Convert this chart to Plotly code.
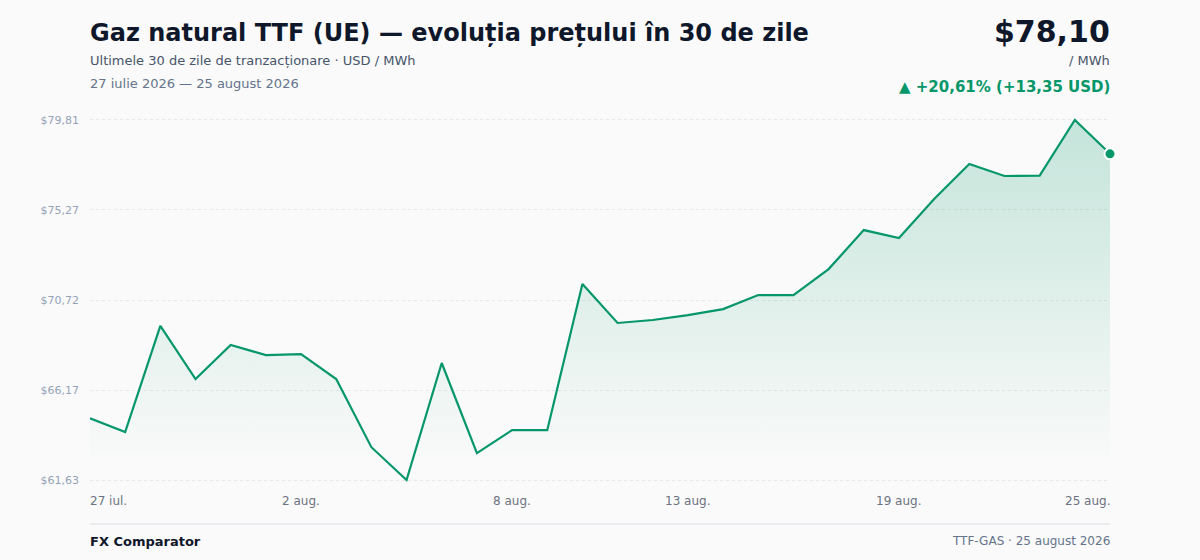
import plotly.graph_objects as go
import pandas as pd

# Daily TTF prices (USD / MWh)
dates = pd.date_range("2026-07-27", "2026-08-25", freq="D")
prices = [64.75, 64.05, 69.41, 66.73, 68.45, 67.94, 67.99, 66.73, 63.29, 61.63,
          67.54, 62.99, 64.15, 64.15, 71.53, 69.56, 69.71, 69.96, 70.26, 70.97,
          70.97, 72.28, 74.25, 73.85, 75.82, 77.59, 76.98, 77.00, 79.81, 78.10]

y_ticks = [61.63, 66.17, 70.72, 75.27, 79.81]
y_labels = ["$61,63", "$66,17", "$70,72", "$75,27", "$79,81"]
x_tick_dates = ["2026-07-27", "2026-08-02", "2026-08-08", "2026-08-13", "2026-08-19", "2026-08-25"]
x_tick_labels = ["27 iul.", "2 aug.", "8 aug.", "13 aug.", "19 aug.", "25 aug."]

GREEN = "#059669"
BG = "#fafafa"
FONT = "DejaVu Sans"

pad = 0.3
fig = go.Figure()

fig.add_trace(go.Scatter(
    x=dates, y=prices, mode="lines",
    line=dict(color=GREEN, width=2.2),
    fill="tozeroy",
    fillgradient=dict(type="vertical", start=62.3, stop=79.81,
                      colorscale=[[0, "rgba(5,150,105,0.0)"], [1, "rgba(5,150,105,0.22)"]]),
    hoverinfo="skip", showlegend=False,
))

# last point marker
fig.add_trace(go.Scatter(
    x=[dates[-1]], y=[prices[-1]], mode="markers",
    marker=dict(color=GREEN, size=11, line=dict(color="white", width=2)),
    cliponaxis=False, hoverinfo="skip", showlegend=False,
))

fig.update_layout(
    width=1200, height=560,
    paper_bgcolor=BG, plot_bgcolor=BG,
    margin=dict(l=90, r=90, t=114, b=74),
    font=dict(family=FONT),
    xaxis=dict(range=[dates[0], dates[-1]], showgrid=False, showticklabels=False,
               zeroline=False, showline=False, fixedrange=True),
    yaxis=dict(range=[61.63 - pad, 79.81 + pad], tickvals=y_ticks, ticktext=y_labels,
               showgrid=True, gridcolor="#e5e7eb", griddash="dot", gridwidth=1,
               zeroline=False, showline=False, ticks="", ticklen=0, ticklabelstandoff=10,
               tickfont=dict(family=FONT, size=11, color="#94a3b8")),
)

# pixel row -> paper fraction
plot_h = 560 - 114 - 74
def py(pix):
    return (560 - 74 - pix) / plot_h

SHIFT = {"left": -2, "center": 0, "right": 2}

# x tick labels (first/last aligned inwards)
for i, (d, lab) in enumerate(zip(x_tick_dates, x_tick_labels)):
    anchor = "left" if i == 0 else ("right" if i == len(x_tick_dates) - 1 else "center")
    fig.add_annotation(x=d, xref="x", y=py(501), yref="paper", yanchor="middle",
                       text=lab, showarrow=False, xanchor=anchor, xshift=SHIFT[anchor],
                       font=dict(family=FONT, size=12, color="#6b7280"))

texts = [
    dict(x=90, y=33, text="<b>Gaz natural TTF (UE) — evoluția prețului în 30 de zile</b>",
         size=24, color="#0f172a", anchor="left"),
    dict(x=90, y=61, text="Ultimele 30 de zile de tranzacționare · USD / MWh",
         size=13, color="#475569", anchor="left"),
    dict(x=90, y=83, text="27 iulie 2026 — 25 august 2026",
         size=13, color="#64748b", anchor="left"),
    dict(x=1110, y=32, text="<b>$78,10</b>", size=30, color="#0f172a", anchor="right"),
    dict(x=1110, y=61, text="/ MWh", size=13, color="#475569", anchor="right"),
    dict(x=1110, y=87, text="<b>▲ +20,61% (+13,35 USD)</b>", size=15, color=GREEN, anchor="right"),
    dict(x=90, y=541, text="<b>FX Comparator</b>", size=13, color="#0f172a", anchor="left"),
    dict(x=1110, y=541, text="TTF-GAS · 25 august 2026", size=12, color="#64748b", anchor="right"),
]
for t in texts:
    fig.add_annotation(x=(t["x"] - 90) / 1020, xref="paper", y=py(t["y"]), yref="paper",
                       text=t["text"], showarrow=False, xanchor=t["anchor"], yanchor="middle",
                       xshift=SHIFT[t["anchor"]],
                       font=dict(family=FONT, size=t["size"], color=t["color"]))

# footer separator
fig.add_shape(type="line", xref="paper", yref="paper", x0=0, x1=1,
              y0=py(524), y1=py(524), line=dict(color="#e5e7eb", width=1.5))

fig.write_html("out.html", config={"displayModeBar": False},
               post_script="document.body.style.margin='0';")
